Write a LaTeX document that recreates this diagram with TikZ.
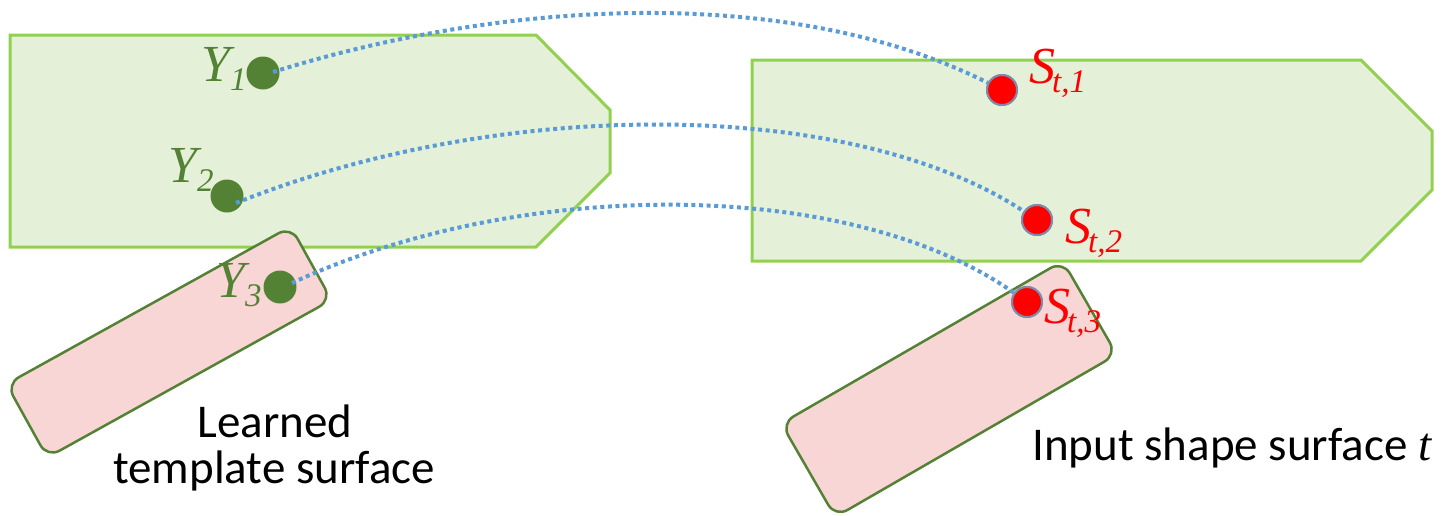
\documentclass[tikz,border=0pt]{standalone}
\usepackage{fontspec}
\setmainfont{Liberation Serif}
\newfontfamily\calib{Carlito}
\definecolor{gborder}{RGB}{146,208,80}
\definecolor{gfill}{RGB}{228,241,216}
\definecolor{dgreen}{RGB}{84,130,53}
\definecolor{pfill}{RGB}{249,214,214}
\definecolor{sline}{RGB}{125,140,170}
\definecolor{lblue}{RGB}{91,155,213}
\newcommand{\mybig}{\rmfamily\itshape\fontsize{52}{52}\selectfont}
\newcommand{\mysub}[1]{\raisebox{-9.5pt}{\rmfamily\itshape\fontsize{33}{33}\selectfont #1}}
\newcommand{\capfont}{\calib\fontsize{47}{47}\selectfont}
\begin{document}
\begin{tikzpicture}[x=1pt,y=-1pt,
  greenshape/.style={draw=gborder, line width=3pt, fill=gfill, line join=miter},
  pinkbox/.style={rectangle, draw=dgreen, line width=2.5pt, fill=pfill, rounded corners=14pt, inner sep=0pt, minimum width=325pt},
  ydot/.style={circle, fill=dgreen, minimum size=33pt, inner sep=0pt},
  sdot/.style={circle, fill=red, draw=sline, line width=2pt, minimum size=30pt, inner sep=0pt},
  corr/.style={draw=lblue, line width=4pt, dash pattern=on 4pt off 3.6pt},
  mlab/.style={inner sep=0pt, anchor=base west},
  captext/.style={inner sep=0pt, font=\capfont}]
\useasboundingbox (0,0) rectangle (1448,515);
% green surfaces
\draw[greenshape] (10,35) -- (536,35) -- (610,110) -- (610,173) -- (536,247) -- (10,247) -- cycle;
\draw[greenshape] (752,60) -- (1361,60) -- (1432,131) -- (1432,190) -- (1361,261) -- (752,261) -- cycle;
% pink rotated boxes
\node[pinkbox, minimum height=84pt, rotate=29] (tmplbox) at (169,342) {};
\node[pinkbox, minimum height=108pt, rotate=30] (inbox) at (949,389) {};
% template points
\node[ydot] (y1) at (263,73) {};
\node[ydot] (y2) at (227,196) {};
\node[ydot] (y3) at (280,287) {};
\coordinate (y1s) at (273,72);
\coordinate (y2s) at (236,203);
\coordinate (y3s) at (292,283);
% input points
\node[sdot] (s1) at (1002,90) {};
\node[sdot] (s2) at (1037,220) {};
\node[sdot] (s3) at (1027,302) {};
% correspondences
\draw[corr] (y1s) .. controls (520,-5) and (800,-12) .. (s1);
\draw[corr] (y2s) .. controls (500,97) and (850,97) .. (s2);
\draw[corr] (y3s) .. controls (520,177) and (850,177) .. (s3);
% red points on top
\node[sdot] (s1top) at (s1) {};
\node[sdot] (s2top) at (s2) {};
\node[sdot] (s3top) at (s3) {};
% labels
\node[mlab, text=dgreen] (y1lab) at (201,81) {\mybig Y\mysub{1}};
\node[mlab, text=dgreen] (y2lab) at (168,182) {\mybig Y\mysub{2}};
\node[mlab, text=dgreen] (y3lab) at (216,297) {\mybig Y\mysub{3}};
\node[mlab, text=red] (s1lab) at (1029,83) {\mybig S\kern-3pt\mysub{t,1}};
\node[mlab, text=red] (s2lab) at (1065,243) {\mybig S\kern-3pt\mysub{t,2}};
\node[mlab, text=red] (s3lab) at (1044,323) {\mybig S\kern-3pt\mysub{t,3}};
% captions
\node[captext, anchor=base] (tmpl1) at (275,437) {Learned};
\node[captext, anchor=base] (tmpl2) at (274,483) {template surface};
\node[captext, anchor=base west] (inlab) at (1032,460) {Input shape surface {\rmfamily\itshape t}};
\end{tikzpicture}
\end{document}
